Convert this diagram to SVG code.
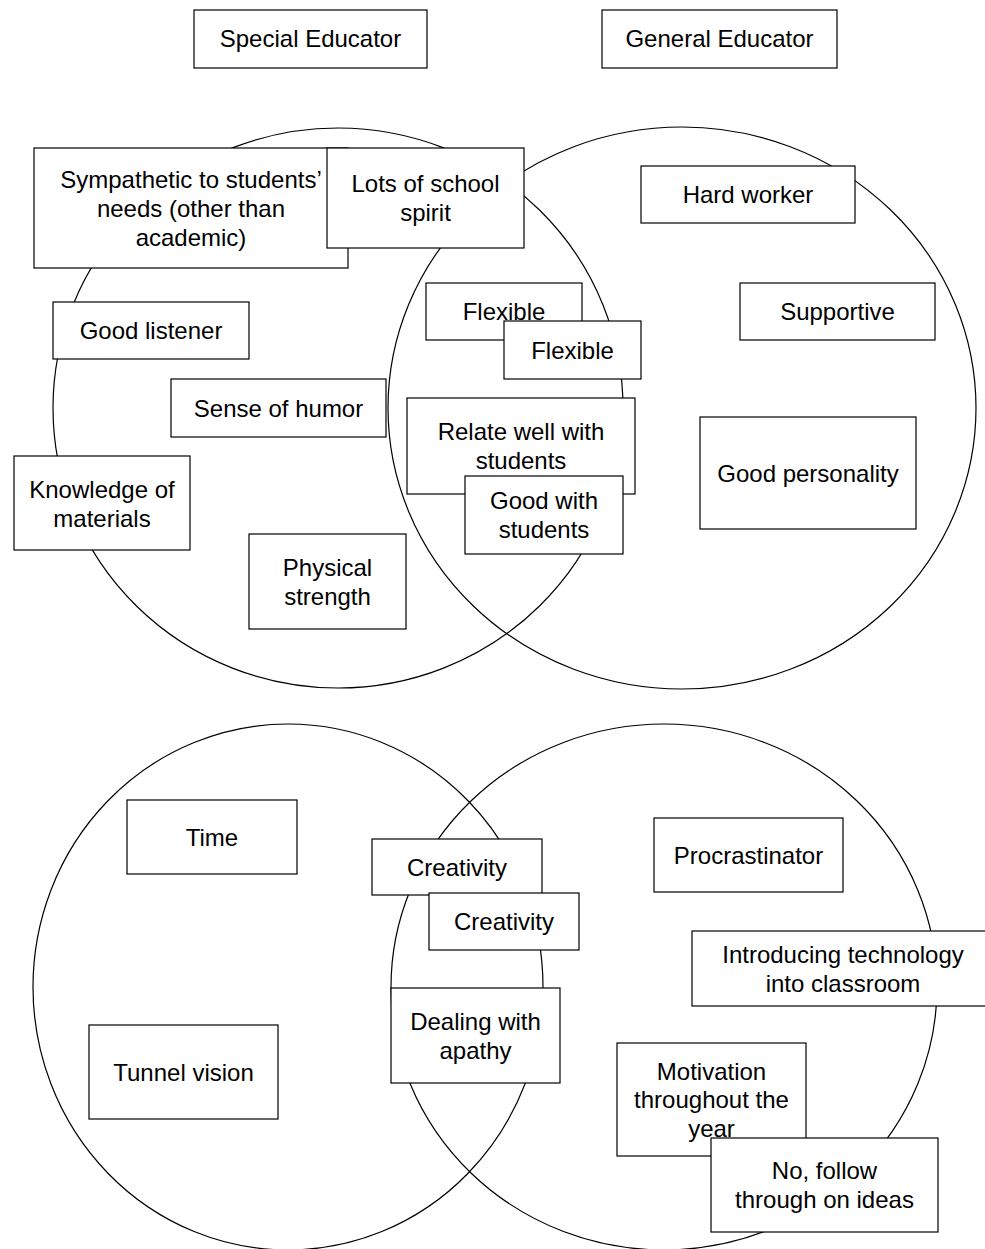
<svg xmlns="http://www.w3.org/2000/svg" width="985" height="1249" viewBox="0 0 985 1249">
<style>
  .bg { fill: #ffffff; }
  .ring { fill: none; stroke: #000000; stroke-width: 1.2; }
  .box { fill: #ffffff; stroke: #000000; stroke-width: 1.2; }
  .lbl { font-family: "Liberation Sans", Arial, Helvetica, sans-serif; font-size: 24px; fill: #000000; text-anchor: middle; }
</style>
<rect class="bg" x="0" y="0" width="985" height="1249"/>

<g id="venn-circles">
  <ellipse class="ring" cx="338" cy="408" rx="285" ry="280"/>
  <ellipse class="ring" cx="682" cy="408" rx="294" ry="281"/>
  <ellipse class="ring" cx="288" cy="987" rx="255" ry="263"/>
  <ellipse class="ring" cx="664" cy="987" rx="273" ry="263"/>
</g>

<g id="title-special">
  <rect class="box" x="194" y="10" width="233" height="58"/>
  <text class="lbl" x="310.5" y="47">Special Educator</text>
</g>
<g id="title-general">
  <rect class="box" x="602" y="10" width="235" height="58"/>
  <text class="lbl" x="719.5" y="47">General Educator</text>
</g>

<g id="sympathetic">
  <rect class="box" x="34" y="148" width="314" height="120"/>
  <text class="lbl" x="191" y="188">Sympathetic to students’</text>
  <text class="lbl" x="191" y="217">needs (other than</text>
  <text class="lbl" x="191" y="246">academic)</text>
</g>
<g id="school-spirit">
  <rect class="box" x="327" y="148" width="197" height="100"/>
  <text class="lbl" x="425.5" y="192">Lots of school</text>
  <text class="lbl" x="425.5" y="221">spirit</text>
</g>
<g id="hard-worker">
  <rect class="box" x="641" y="166" width="214" height="57"/>
  <text class="lbl" x="748" y="203">Hard worker</text>
</g>
<g id="flexible-1">
  <rect class="box" x="426" y="283" width="156" height="57"/>
  <text class="lbl" x="504" y="320">Flexible</text>
</g>
<g id="flexible-2">
  <rect class="box" x="504" y="321" width="137" height="58"/>
  <text class="lbl" x="572.5" y="358.5">Flexible</text>
</g>
<g id="supportive">
  <rect class="box" x="740" y="283" width="195" height="57"/>
  <text class="lbl" x="837.5" y="320">Supportive</text>
</g>
<g id="good-listener">
  <rect class="box" x="53" y="302" width="196" height="57"/>
  <text class="lbl" x="151" y="339">Good listener</text>
</g>
<g id="sense-of-humor">
  <rect class="box" x="171" y="379" width="215" height="58"/>
  <text class="lbl" x="278.5" y="416.5">Sense of humor</text>
</g>
<g id="relate-well">
  <rect class="box" x="407" y="398" width="228" height="96"/>
  <text class="lbl" x="521" y="440">Relate well with</text>
  <text class="lbl" x="521" y="468.5">students</text>
</g>
<g id="good-with-students">
  <rect class="box" x="465" y="476" width="158" height="78"/>
  <text class="lbl" x="544" y="508.5">Good with</text>
  <text class="lbl" x="544" y="537.5">students</text>
</g>
<g id="good-personality">
  <rect class="box" x="700" y="417" width="216" height="112"/>
  <text class="lbl" x="808" y="482">Good personality</text>
</g>
<g id="knowledge">
  <rect class="box" x="14" y="456" width="176" height="94"/>
  <text class="lbl" x="102" y="497.5">Knowledge of</text>
  <text class="lbl" x="102" y="526.5">materials</text>
</g>
<g id="physical-strength">
  <rect class="box" x="249" y="534" width="157" height="95"/>
  <text class="lbl" x="327.5" y="575.5">Physical</text>
  <text class="lbl" x="327.5" y="604.5">strength</text>
</g>

<g id="time">
  <rect class="box" x="127" y="800" width="170" height="74"/>
  <text class="lbl" x="212" y="845.5">Time</text>
</g>
<g id="creativity-1">
  <rect class="box" x="372" y="839" width="170" height="56"/>
  <text class="lbl" x="457" y="875.5">Creativity</text>
</g>
<g id="creativity-2">
  <rect class="box" x="429" y="893" width="150" height="57"/>
  <text class="lbl" x="504" y="930">Creativity</text>
</g>
<g id="procrastinator">
  <rect class="box" x="654" y="818" width="189" height="74"/>
  <text class="lbl" x="748.5" y="863.5">Procrastinator</text>
</g>
<g id="introducing-technology">
  <rect class="box" x="692" y="931" width="302" height="75"/>
  <text class="lbl" x="843" y="962.5">Introducing technology</text>
  <text class="lbl" x="843" y="991.5">into classroom</text>
</g>
<g id="dealing-with-apathy">
  <rect class="box" x="391" y="988" width="169" height="95"/>
  <text class="lbl" x="475.5" y="1029.5">Dealing with</text>
  <text class="lbl" x="475.5" y="1058.5">apathy</text>
</g>
<g id="tunnel-vision">
  <rect class="box" x="89" y="1025" width="189" height="94"/>
  <text class="lbl" x="183.5" y="1080.5">Tunnel vision</text>
</g>
<g id="motivation">
  <rect class="box" x="617" y="1043" width="189" height="113"/>
  <text class="lbl" x="711.5" y="1079.5">Motivation</text>
  <text class="lbl" x="711.5" y="1108">throughout the</text>
  <text class="lbl" x="711.5" y="1136.5">year</text>
</g>
<g id="follow-through">
  <rect class="box" x="711" y="1138" width="227" height="94"/>
  <text class="lbl" x="824.5" y="1178.5">No, follow</text>
  <text class="lbl" x="824.5" y="1207.5">through on ideas</text>
</g>
</svg>
